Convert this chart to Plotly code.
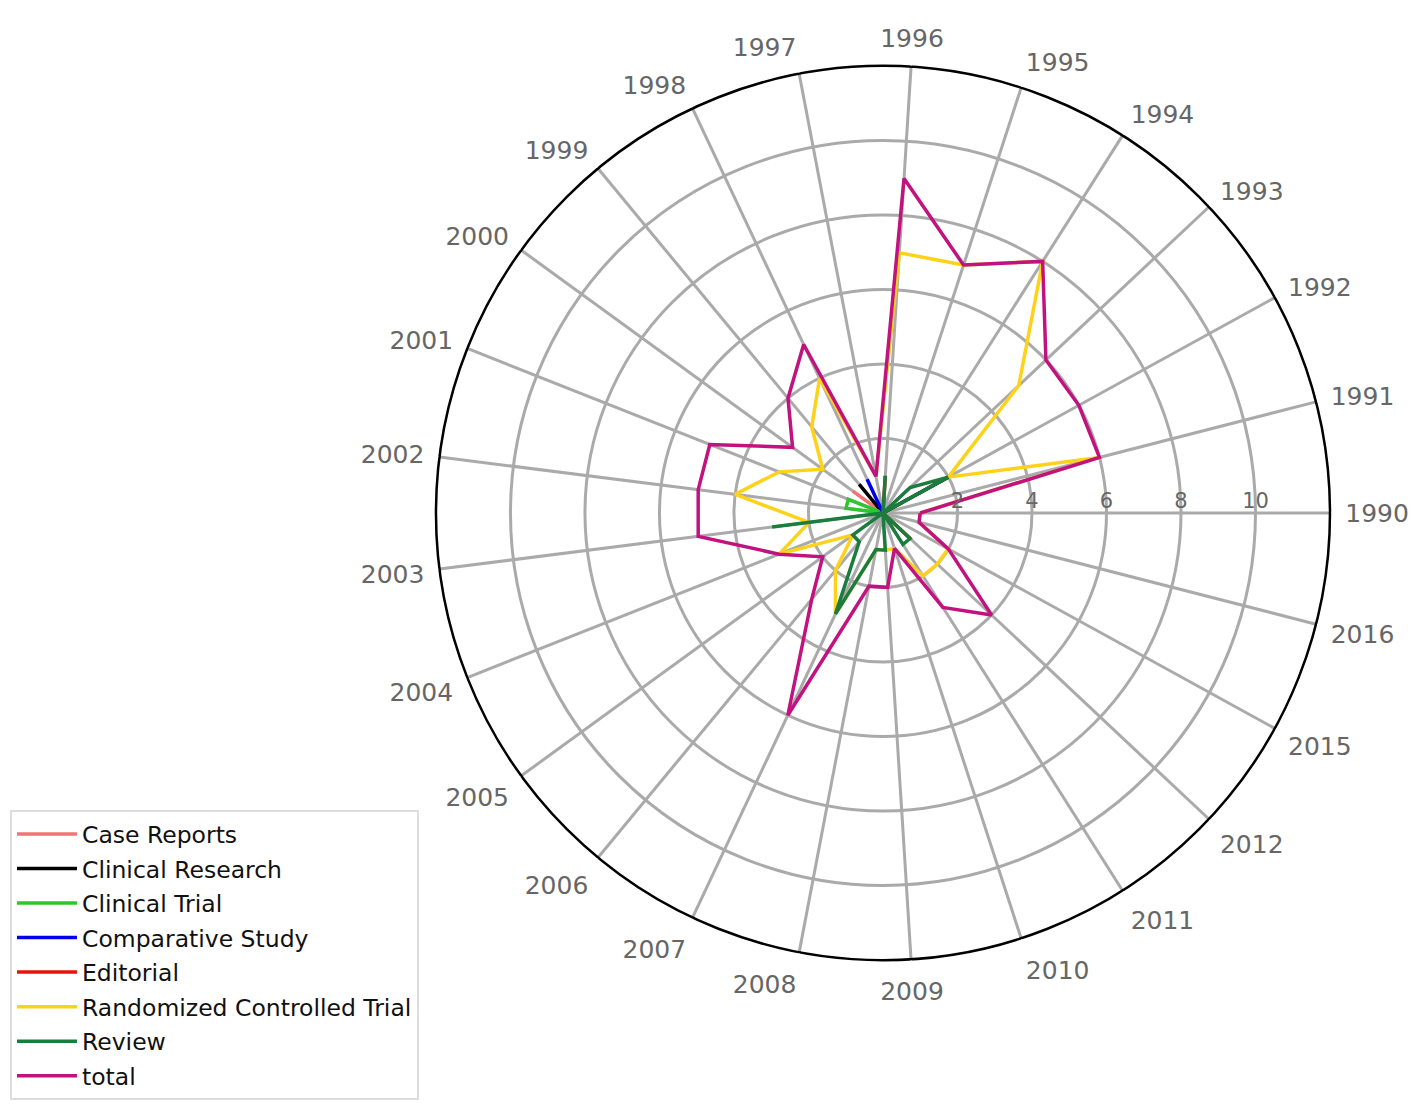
import plotly.graph_objects as go

# years on the angular axis (2013 and 2014 are missing in the source)
years = ['1990', '1991', '1992', '1993', '1994', '1995', '1996', '1997', '1998',
         '1999', '2000', '2001', '2002', '2003', '2004', '2005', '2006', '2007',
         '2008', '2009', '2010', '2011', '2012', '2015', '2016']

# counts per year
case_reports = [0, 0, 0, 0, 0, 0, 0, 0, 0, 0, 1, 0, 0, 0, 0, 0, 0, 0, 0, 0, 0, 0, 0, 0, 0]
clinical_research = [0, 0, 2, 0, 0, 0, 0, 0, 0, 1, 0, 0, 0, 0, 0, 0, 0, 0, 0, 0, 0, 0, 0, 0, 0]
clinical_trial = [0, 0, 0, 0, 0, 0, 0, 0, 0, 0, 0, 1, 1, 0, 0, 0, 0, 0, 0, 0, 0, 0, 0, 0, 0]
comparative_study = [0, 0, 0, 0, 0, 0, 0, 0, 1, 0, 0, 0, 0, 0, 0, 0, 0, 0, 0, 0, 0, 0, 0, 0, 0]
editorial = [0, 0, 0, 0, 0, 0, 1, 0, 0, 0, 0, 0, 0, 0, 0, 0, 0, 0, 0, 0, 0, 0, 1, 0, 0]
rct = [1, 6, 2, 5, 8, 7, 7, 1, 4, 3, 2, 3, 4, 2, 3, 1, 2, 3, 1, 1, 1, 2, 2, 2, 1]
review = [0, 0, 2, 1, 0, 0, 1, 0, 0, 0, 0, 0, 0, 3, 0, 1, 1, 3, 1, 1, 0, 1, 1, 0, 0]
total = [1, 6, 6, 6, 8, 7, 9, 1, 5, 4, 3, 5, 5, 5, 3, 2, 3, 6, 2, 2, 1, 3, 4, 2, 1]

series = [
    ('Case Reports', case_reports, '#f07575'),
    ('Clinical Research', clinical_research, '#000000'),
    ('Clinical Trial', clinical_trial, '#2ec62e'),
    ('Comparative Study', comparative_study, '#0000ee'),
    ('Editorial', editorial, '#e8120c'),
    ('Randomized Controlled Trial', rct, '#ffd21a'),
    ('Review', review, '#1b7d3d'),
    ('total', total, '#c2127f'),
]

fig = go.Figure()
for name, vals, color in series:
    # close the loop by repeating the first year
    fig.add_trace(go.Scatterpolar(
        r=vals + vals[:1],
        theta=years + years[:1],
        mode='lines',
        name=name,
        legendgroup=name,
        line=dict(color=color, width=3.5),
    ))

fig.update_layout(
    width=1418, height=1111,
    margin=dict(l=0, r=0, t=0, b=0),
    paper_bgcolor='white',
    font=dict(family='DejaVu Sans', color='#666666'),
    polar=dict(
        domain=dict(x=[0.3018, 0.9323], y=[0.1431, 0.9478]),
        bgcolor='white',
        angularaxis=dict(
            type='category', categoryorder='array', categoryarray=years,
            rotation=0, direction='counterclockwise',
            showgrid=True, gridcolor='#aaaaaa', gridwidth=2.5,
            showline=True, linecolor='black', linewidth=2.5,
            ticks='outside', ticklen=9, tickcolor='white',
            tickfont=dict(size=25, color='#666666'),
        ),
        radialaxis=dict(
            range=[0, 12], tickvals=[2, 4, 6, 8, 10],
            angle=0, side='counterclockwise',
            showline=False, ticks='',
            showgrid=True, gridcolor='#aaaaaa', gridwidth=2.5,
            tickfont=dict(size=21, color='#666666'),
        ),
    ),
    legend=dict(
        x=0.0014, y=0.017, xanchor='left', yanchor='bottom',
        bordercolor='#dddddd', borderwidth=2, bgcolor='white',
        font=dict(size=23.5, color='#111111'),
        itemwidth=60, tracegroupgap=1,
    ),
)

fig.write_html("out.html")
